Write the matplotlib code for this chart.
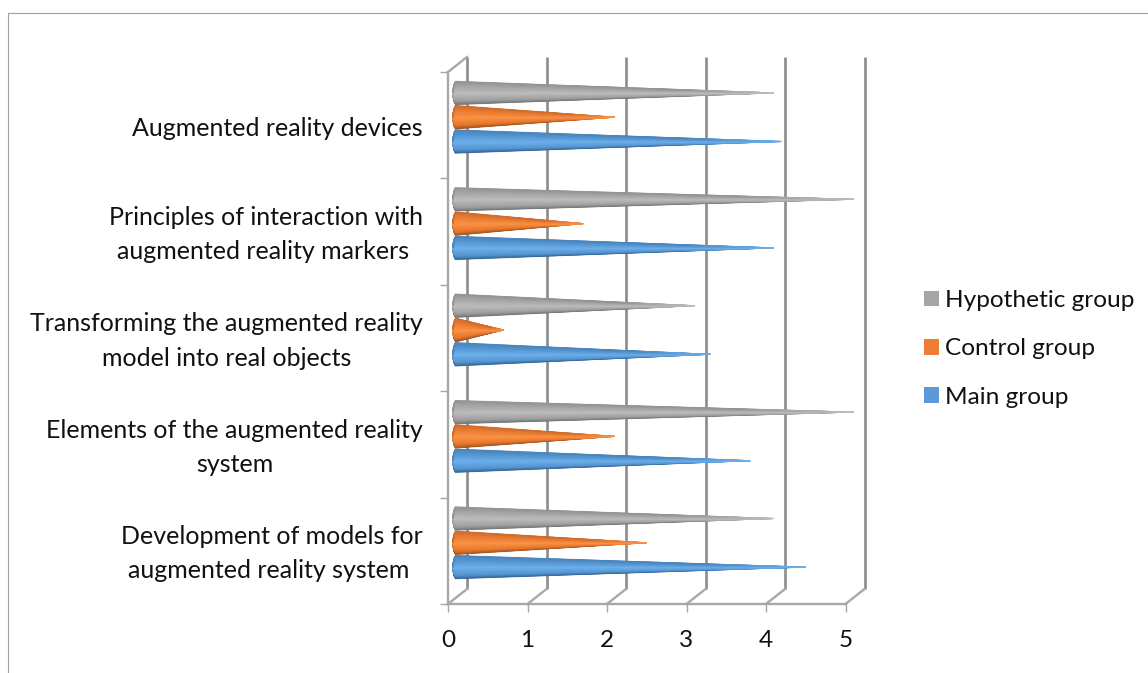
import numpy as np
import matplotlib
matplotlib.use("Agg")
import matplotlib.pyplot as plt
from matplotlib.lines import Line2D
from matplotlib.patches import Patch
from matplotlib.colors import to_rgb

plt.rcParams['font.family'] = ['Lato', 'DejaVu Sans']

categories = [
    "Development of models for\naugmented reality system ",
    "Elements of the augmented reality\nsystem",
    "Transforming the augmented reality\nmodel into real objects",
    "Principles of interaction with\naugmented reality markers ",
    "Augmented reality devices",
]
main_group = [4.4, 3.7, 3.2, 4.0, 4.1]
control_group = [2.4, 2.0, 0.6, 1.6, 2.0]
hypothetic_group = [4.0, 5.0, 3.0, 5.0, 4.0]
x_ticks = [0, 1, 2, 3, 4, 5]

# Shading across each cone, listed from the top edge to the bottom edge
SHADES = {
    "Main group": ("#5b9bd5", ["#4a84ba", "#5496d2", "#6db0ec", "#5697d3", "#2f5f8c"]),
    "Control group": ("#ed7d31", ["#cf6c2b", "#ea7c30", "#fb9347", "#e8772b", "#96501f"]),
    "Hypothetic group": ("#a5a5a5", ["#939393", "#a6a6a6", "#bdbdbd", "#a0a0a0", "#6e6e6e"]),
}

fig = plt.figure(figsize=(11.48, 6.73), dpi=100)
W, H = 1148, 673
ax = fig.add_axes([448 / W, 1 - 604 / H, 397.5 / W, 532 / H])
ax.set_xlim(0, 5)
ax.set_ylim(0, 5)

PX_X = 79.5
PX_Y = 106.4
wall_dx = 19 / PX_X
wall_dy = 15 / PX_Y
wall_color = "#8c8c8c"
axis_color = "#a8a8a8"

# Back wall gridlines and the floor diagonals leading to them
for t in x_ticks:
    ax.plot([t + wall_dx] * 2, [wall_dy, 5 + wall_dy], color=wall_color, lw=1.9,
            clip_on=False, zorder=1, solid_capstyle="butt")
    ax.plot([t, t + wall_dx], [0, wall_dy], color=axis_color, lw=1.7,
            clip_on=False, zorder=1)
ax.plot([0, wall_dx], [5, 5 + wall_dy], color=axis_color, lw=1.7, clip_on=False, zorder=1)


def draw_cone(center, value, half_height, series):
    """Shaded cone lying along x, with an elliptical base."""
    _, stops = SHADES[series]
    rgb = np.array([to_rgb(c) for c in stops])
    cap = 3 / PX_X
    x_cap = -cap * np.cos(np.linspace(0, np.pi / 2, 10))
    x_body = np.linspace(0, value, 90)[1:]
    xs = np.concatenate([x_cap, x_body])
    widths = np.where(
        xs < 0,
        half_height * np.sqrt(np.clip(1 - (xs / cap) ** 2, 0, 1)),
        half_height * (1 - xs / value),
    )
    s = np.concatenate([[-1.0], np.linspace(-0.93, 0.93, 21), [1.0]])
    X = np.tile(xs + 8 / PX_X, (s.size, 1))
    Y = center + np.outer(s, widths)
    pos = (s + 1) / 2
    ramp = np.column_stack(
        [np.interp(pos, [0, .18, .5, .8, 1], rgb[::-1][:, k]) for k in range(3)]
    )
    # Edge shading dies away towards the tip, leaving the body colour
    mix = np.clip((value - xs) / (0.3 * value), 0, 1)[None, :, None]
    colors = np.zeros(X.shape + (4,))
    colors[..., :3] = ramp[:, None, :] * mix + rgb[2] * (1 - mix)
    row_alpha = np.where(np.abs(s) == 1, 0.0, 1.0)
    col_alpha = np.clip((value - xs) / (0.1 * value), 0.1, 1) ** 0.7
    colors[..., 3] = np.outer(row_alpha, col_alpha)
    ax.pcolormesh(X, Y, colors, shading="gouraud", clip_on=False, zorder=3)


series = [
    ("Main group", main_group, -24.3),
    ("Control group", control_group, 0.0),
    ("Hypothetic group", hypothetic_group, 24.3),
]
half_h = 12.0 / PX_Y
for name, values, shift in series:
    for i, v in enumerate(values):
        draw_cone(i + 0.5 + (shift + 8) / PX_Y, v, half_h, name)

# Front axes
for side in ("top", "right"):
    ax.spines[side].set_visible(False)
for side in ("left", "bottom"):
    ax.spines[side].set_color(axis_color)
    ax.spines[side].set_linewidth(1.7)
    ax.spines[side].set_zorder(2)

ax.set_xticks(x_ticks)
ax.set_xticklabels([str(t) for t in x_ticks])
ax.tick_params(axis="x", length=6, width=1, color=axis_color, labelsize=17.5,
               pad=12.5, labelcolor="#111111")
ax.set_yticks(range(6))
ax.set_yticklabels([])
ax.tick_params(axis="y", length=6, width=1, color=axis_color)

for i, label in enumerate(categories):
    ax.annotate(label, xy=(0, i + 0.5), xycoords="data", xytext=(423, -3),
                textcoords=("figure pixels", "offset pixels"),
                ha="right", va="center", multialignment="center",
                fontsize=18, color="#111111", linespacing=1.6,
                annotation_clip=False)

handles = [Patch(facecolor=SHADES[n][0], label=n)
           for n in ("Hypothetic group", "Control group", "Main group")]
fig.legend(handles=handles, loc="upper left", bbox_to_anchor=(924 / W, 1 - 290 / H),
           frameon=False, fontsize=17.6, labelcolor="#111111", handlelength=0.61,
           handleheight=0.61, handletextpad=0.25, labelspacing=1.12, borderpad=0,
           borderaxespad=0)

# Thin frame around the chart area
frame = "#a0a0a0"
fig.add_artist(Line2D([8 / W, 1], [1 - 12.5 / H] * 2, color=frame, lw=0.8))
fig.add_artist(Line2D([8 / W, 8 / W], [0, 1 - 12.5 / H], color=frame, lw=0.8))

fig.savefig("out.png", dpi=100)
